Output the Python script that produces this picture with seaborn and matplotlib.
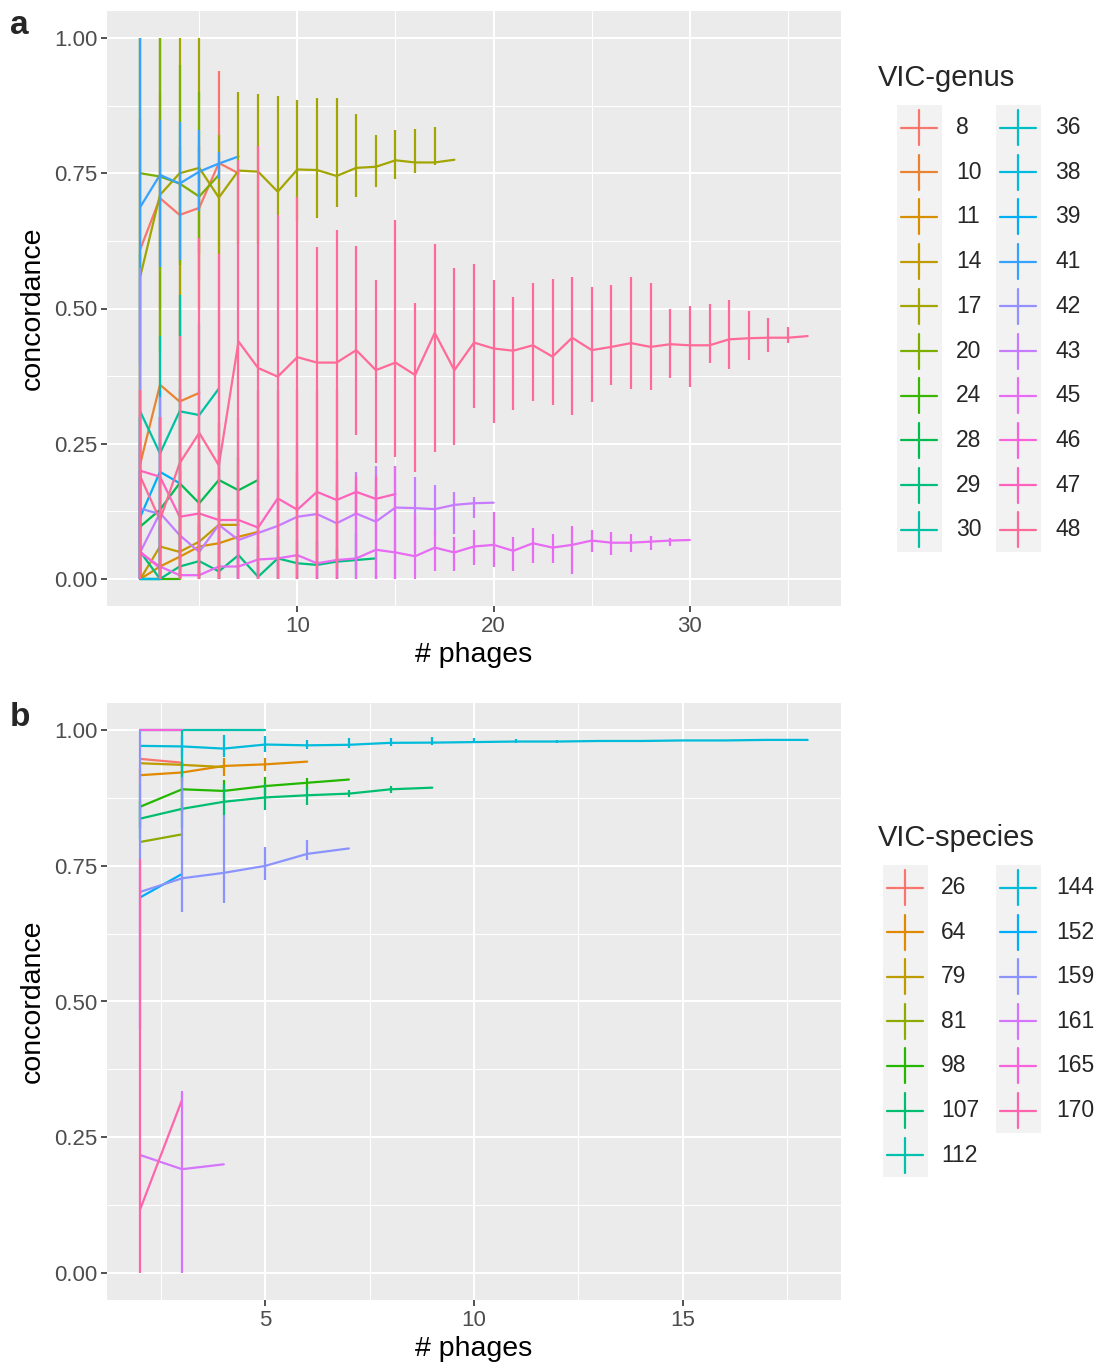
import numpy as np
import pandas as pd
import seaborn as sns
import matplotlib
matplotlib.use("Agg")
import matplotlib.pyplot as plt
from matplotlib.patches import Rectangle

# ---- data: mean concordance and bar ends, x runs 2, 3, 4, ... ----
genus_ids = [8, 10, 11, 14, 17, 20, 24, 28, 29, 30, 36, 38, 39, 41, 42, 43, 45, 46, 47, 48]

genus_mean = {
    8: [0.61, 0.704, 0.673, 0.686, 0.769, 0.75],
    10: [0.214, 0.359, 0.328, 0.344],
    11: [0.0, 0.023, 0.041, 0.06, 0.066, 0.078, 0.087],
    14: [0.0, 0.06, 0.05, 0.069, 0.10, 0.10],
    17: [0.56, 0.71, 0.75, 0.76, 0.705, 0.755, 0.753, 0.716, 0.757, 0.756, 0.745, 0.76, 0.762, 0.774, 0.77, 0.77, 0.775],
    20: [0.75, 0.744, 0.731, 0.707, 0.747],
    24: [0.0, 0.0, 0.0],
    28: [0.097, 0.128, 0.177, 0.14, 0.183, 0.164, 0.183],
    29: [0.05, 0.0, 0.023, 0.033, 0.014, 0.044, 0.004, 0.038, 0.029, 0.026, 0.032, 0.035, 0.038],
    30: [0.309, 0.232, 0.31, 0.303, 0.352],
    36: [0.0, 0.0],
    38: [0.0, 0.0],
    39: [0.115, 0.198, 0.177],
    41: [0.688, 0.747, 0.731, 0.753, 0.768, 0.781],
    42: [0.13, 0.12],
    43: [0.05, 0.122, 0.081, 0.05, 0.1, 0.072, 0.085, 0.098, 0.115, 0.12, 0.103, 0.121, 0.106, 0.132, 0.131, 0.129, 0.137, 0.14, 0.141],
    45: [0.048, 0.023, 0.007, 0.007, 0.023, 0.023, 0.036, 0.038, 0.044, 0.029, 0.035, 0.038, 0.054, 0.049, 0.042,
         0.058, 0.049, 0.06, 0.063, 0.052, 0.066, 0.058, 0.063, 0.071, 0.067, 0.067, 0.069, 0.071, 0.072],
    46: [0.05, 0.02],
    47: [0.2, 0.189, 0.115, 0.121, 0.109, 0.109, 0.095, 0.149, 0.128, 0.161, 0.146, 0.161, 0.148, 0.157],
    48: [0.189, 0.109, 0.214, 0.27, 0.21, 0.439, 0.39, 0.374, 0.41, 0.40, 0.40, 0.423, 0.386, 0.40, 0.377, 0.455, 0.386,
         0.437, 0.426, 0.422, 0.432, 0.411, 0.446, 0.423, 0.429, 0.436, 0.429, 0.434, 0.432, 0.432, 0.443, 0.445, 0.446, 0.446, 0.449],
}
genus_lo = {
    8: [0.30, 0.50, 0.45, 0.55, 0.60, 0.75],
    10: [0.0, 0.337, 0.0, 0.344],
    11: [0.0, 0.0, 0.0, 0.0, 0.0, 0.0, 0.087],
    14: [0.0, 0.0, 0.0, 0.0, 0.0, 0.10],
    17: [0.1, 0.42, 0.45, 0.5, 0.60, 0.62, 0.62, 0.673, 0.66, 0.667, 0.688, 0.707, 0.724, 0.739, 0.751, 0.765, 0.775],
    20: [0.5, 0.42, 0.58, 0.6, 0.747],
    24: [0.0, 0.0, 0.0],
    28: [0.0, 0.0, 0.05, 0.05, 0.128, 0.10, 0.183],
    29: [0.0, 0.0, 0.0, 0.0, 0.0, 0.0, 0.0, 0.0, 0.0, 0.0, 0.0, 0.0, 0.038],
    30: [0.0, 0.0, 0.1, 0.17, 0.352],
    36: [0.0, 0.0],
    38: [0.0, 0.0],
    39: [0.0, 0.05, 0.177],
    41: [0.4, 0.577, 0.59, 0.68, 0.74, 0.781],
    42: [0.0, 0.0],
    43: [0.0, 0.0, 0.0, 0.0, 0.0, 0.0, 0.0, 0.0, 0.0, 0.0, 0.0, 0.02, 0.0, 0.0, 0.05, 0.08, 0.084, 0.112, 0.141],
    45: [0.0, 0.0, 0.0, 0.0, 0.0, 0.0, 0.0, 0.0, 0.0, 0.0, 0.0, 0.0, 0.0, 0.0,
         0.0, 0.014, 0.014, 0.026, 0.023, 0.014, 0.03, 0.03, 0.009, 0.05, 0.044, 0.049, 0.054, 0.061, 0.072],
    46: [0.0, 0.02],
    47: [0.0, 0.0, 0.0, 0.0, 0.0, 0.0, 0.0, 0.0, 0.0, 0.0, 0.0, 0.12, 0.12, 0.157],
    48: [0.0, 0.0, 0.0, 0.0, 0.0, 0.1, 0.0, 0.0, 0.0, 0.02, 0.02, 0.266, 0.214, 0.226, 0.198, 0.235, 0.247,
         0.316, 0.289, 0.312, 0.329, 0.322, 0.303, 0.328, 0.359, 0.351, 0.349, 0.371, 0.354, 0.399, 0.389, 0.405, 0.42, 0.436, 0.449],
}
genus_hi = {
    8: [0.85, 0.90, 0.80, 0.80, 0.94, 0.75],
    10: [0.5, 0.42, 0.497, 0.344],
    11: [0.0, 0.1, 0.2, 0.15, 0.15, 0.1, 0.087],
    14: [0.0, 0.15, 0.12, 0.17, 0.128, 0.10],
    17: [1.0, 1.0, 1.0, 1.0, 0.82, 0.90, 0.897, 0.893, 0.885, 0.89, 0.89, 0.86, 0.82, 0.83, 0.831, 0.836, 0.775],
    20: [1.0, 1.0, 0.95, 0.9, 0.747],
    24: [0.1, 0.1, 0.0],
    28: [0.3, 0.3, 0.35, 0.25, 0.288, 0.226, 0.183],
    29: [0.2, 0.1, 0.1, 0.1, 0.08, 0.1, 0.06, 0.08, 0.07, 0.07, 0.06, 0.085, 0.038],
    30: [0.6, 0.45, 0.525, 0.473, 0.352],
    36: [0.3, 0.0],
    38: [0.2, 0.0],
    39: [0.3, 0.35, 0.177],
    41: [1.0, 0.848, 0.845, 0.83, 0.79, 0.781],
    42: [0.575, 0.337],
    43: [0.2, 0.3, 0.2, 0.16, 0.25, 0.18, 0.2, 0.22, 0.25, 0.25, 0.22, 0.198, 0.208, 0.208, 0.189, 0.174, 0.161, 0.151, 0.141],
    45: [0.2, 0.1, 0.08, 0.1, 0.15, 0.12, 0.15, 0.15, 0.2, 0.15, 0.18, 0.17, 0.17, 0.208,
         0.12, 0.09, 0.078, 0.09, 0.123, 0.078, 0.095, 0.083, 0.097, 0.09, 0.086, 0.083, 0.079, 0.076, 0.072],
    46: [0.25, 0.02],
    47: [0.35, 0.3, 0.3, 0.35, 0.6, 0.3, 0.35, 0.35, 0.35, 0.35, 0.35, 0.19, 0.19, 0.157],
    48: [0.35, 0.3, 0.45, 0.63, 0.6, 0.775, 0.80, 0.673, 0.707, 0.614, 0.645, 0.615, 0.553, 0.664, 0.51, 0.62, 0.575,
         0.582, 0.553, 0.521, 0.548, 0.555, 0.558, 0.54, 0.543, 0.558, 0.548, 0.499, 0.505, 0.508, 0.516, 0.495, 0.483, 0.465, 0.449],
}

species_ids = [26, 64, 79, 81, 98, 107, 112, 144, 152, 159, 161, 165, 170]

species_mean = {
    26: [0.947, 0.94],
    64: [0.917, 0.922, 0.934, 0.937, 0.942],
    79: [0.939, 0.936, 0.932],
    81: [0.794, 0.808],
    98: [0.859, 0.891, 0.888, 0.897, 0.903, 0.909],
    107: [0.837, 0.855, 0.868, 0.876, 0.880, 0.883, 0.891, 0.894],
    112: [1.0, 1.0, 1.0, 1.0],
    144: [0.971, 0.97, 0.966, 0.9735, 0.972, 0.973, 0.9766, 0.977, 0.978, 0.979, 0.979, 0.98, 0.98, 0.981, 0.981, 0.982, 0.982],
    152: [0.692, 0.735],
    159: [0.702, 0.727, 0.737, 0.75, 0.772, 0.782],
    161: [0.217, 0.191, 0.2],
    165: [1.0, 1.0],
    170: [0.118, 0.319],
}
species_lo = {
    26: [0.947, 0.94],
    64: [0.9, 0.905, 0.915, 0.925, 0.942],
    79: [0.939, 0.93, 0.932],
    81: [0.794, 0.808],
    98: [0.82, 0.85, 0.871, 0.88, 0.89, 0.909],
    107: [0.8, 0.82, 0.84, 0.853, 0.862, 0.876, 0.885, 0.894],
    112: [1.0, 0.912, 1.0, 1.0],
    144: [0.971, 0.95, 0.951, 0.96, 0.966, 0.967, 0.97, 0.973, 0.976, 0.976, 0.977, 0.978, 0.979, 0.98, 0.98, 0.981, 0.982],
    152: [0.692, 0.735],
    159: [0.45, 0.664, 0.682, 0.724, 0.761, 0.782],
    161: [0.217, 0.0, 0.2],
    165: [1.0, 1.0],
    170: [0.0, 0.319],
}
species_hi = {
    26: [0.947, 0.94],
    64: [0.93, 0.94, 0.949, 0.949, 0.942],
    79: [0.939, 0.942, 0.932],
    81: [0.794, 0.808],
    98: [0.9, 0.942, 0.908, 0.913, 0.911, 0.909],
    107: [0.87, 0.89, 0.9, 0.9, 0.895, 0.89, 0.897, 0.894],
    112: [1.0, 1.0, 1.0, 1.0],
    144: [0.971, 0.99, 0.991, 0.99, 0.981, 0.985, 0.986, 0.988, 0.985, 0.983, 0.982, 0.982, 0.982, 0.982, 0.982, 0.982, 0.982],
    152: [0.692, 0.735],
    159: [1.0, 0.914, 0.844, 0.785, 0.797, 0.782],
    161: [0.217, 0.336, 0.2],
    165: [1.0, 1.0],
    170: [0.763, 0.319],
}


def hcl(h, c=100, l=65):
    # ggplot2 hue_pal colours (polar LUV -> sRGB)
    h = np.deg2rad(h)
    U, V = c * np.cos(h), c * np.sin(h)
    Y = 100 * ((l + 16) / 116) ** 3
    u = U / (13 * l) + 0.1978398
    v = V / (13 * l) + 0.4683363
    X = 9 * Y * u / (4 * v)
    Z = -X / 3 - 5 * Y + 3 * Y / v
    rgb = [(3.240479 * X - 1.537150 * Y - 0.498535 * Z) / 100,
           (-0.969256 * X + 1.875992 * Y + 0.041556 * Z) / 100,
           (0.055648 * X - 0.204043 * Y + 1.057311 * Z) / 100]
    out = []
    for t in rgb:
        t = 1.055 * t ** (1 / 2.4) - 0.055 if t > 0.00304 else 12.92 * t
        out.append(min(max(t, 0), 1))
    return tuple(out)


def hue_pal(n):
    return [hcl(h) for h in np.linspace(15, 375, n + 1)[:n]]


sns.set_theme(style="darkgrid")
plt.rcParams["font.family"] = ["Liberation Sans", "DejaVu Sans"]

fig = plt.figure(figsize=(10.98, 13.69), dpi=100)
W, H = 1098, 1369
ax_a = fig.add_axes([107 / W, 1 - 606 / H, 734 / W, 595 / H])
ax_b = fig.add_axes([107 / W, 1 - 1300 / H, 734 / W, 597 / H])


def draw_panel(ax, ids, means, los, his, pal):
    rows = []
    for g in ids:
        for i in range(len(means[g])):
            rows.append((str(g), 2 + i, means[g][i], los[g][i], his[g][i]))
    df = pd.DataFrame(rows, columns=["grp", "x", "y", "lo", "hi"])
    sns.lineplot(data=df, x="x", y="y", hue="grp", hue_order=[str(g) for g in ids],
                 palette=pal, estimator=None, lw=1.6, legend=False, ax=ax)
    for g, c in zip(ids, pal):
        sub = df[df.grp == str(g)]
        ax.vlines(sub.x, sub.lo, sub.hi, colors=[c], lw=1.6)


def style_axes(ax, xlim, xmajor, xminor):
    ax.set_facecolor("#EBEBEB")
    ax.set_xlim(*xlim)
    ax.set_ylim(-0.05, 1.05)
    ax.set_xticks(xmajor)
    ax.set_xticks(xminor, minor=True)
    ax.set_yticks([0, 0.25, 0.5, 0.75, 1.0])
    ax.set_yticklabels(["0.00", "0.25", "0.50", "0.75", "1.00"])
    ax.set_yticks([0.125, 0.375, 0.625, 0.875], minor=True)
    ax.grid(which="major", color="white", lw=1.5)
    ax.grid(which="minor", color="white", lw=0.75)
    ax.set_axisbelow(True)
    for s in ax.spines.values():
        s.set_visible(False)
    ax.tick_params(which="major", length=4, width=1.2, color="#333333",
                   labelsize=16, labelcolor="#4D4D4D", pad=3, bottom=True, left=True)
    ax.tick_params(which="minor", length=0)
    ax.set_xlabel("# phages", fontsize=20.5, color="black", labelpad=4)
    ax.set_ylabel("concordance", fontsize=20.5, color="black", labelpad=6)


pal_a = hue_pal(len(genus_ids))
pal_b = hue_pal(len(species_ids))
draw_panel(ax_a, genus_ids, genus_mean, genus_lo, genus_hi, pal_a)
draw_panel(ax_b, species_ids, species_mean, species_lo, species_hi, pal_b)
style_axes(ax_a, (0.3, 37.7), [10, 20, 30], [5, 15, 25, 35])
style_axes(ax_b, (1.2, 18.8), [5, 10, 15], [2.5, 7.5, 12.5, 17.5])

# legends drawn by hand in pixel space (ggplot style keys)
leg = fig.add_axes([0, 0, 1, 1])
leg.set_xlim(0, W)
leg.set_ylim(H, 0)
leg.axis("off")


def draw_legend(title, ty, ids, pal, y0, step, per_col, col_x, txt_off):
    leg.text(878, ty, title, fontsize=21, va="center", ha="left")
    ncol = int(np.ceil(len(ids) / per_col))
    for c in range(ncol):
        n = min(per_col, len(ids) - c * per_col)
        leg.add_patch(Rectangle((col_x[c], y0 - step / 2), 45, n * step, color="#F2F2F2", lw=0))
    for i, (g, col) in enumerate(zip(ids, pal)):
        c, r = divmod(i, per_col)
        x0 = col_x[c]
        y = y0 + r * step
        leg.plot([x0 + 4, x0 + 40], [y, y], color=col, lw=1.6)
        leg.plot([x0 + 22, x0 + 22], [y - 17.5, y + 17.5], color=col, lw=1.6)
        leg.text(x0 + txt_off[c], y, str(g), fontsize=16.5, va="center", ha="left")


draw_legend("VIC-genus", 78, genus_ids, pal_a, 127.5, 44.7, 10, [897, 996], [59, 59])
draw_legend("VIC-species", 838, species_ids, pal_b, 887.5, 44.6, 7, [883, 996], [58, 60])

fig.text(10 / W, 1 - 25 / H, "a", fontsize=24, fontweight="bold", va="center", ha="left")
fig.text(10 / W, 1 - 718 / H, "b", fontsize=24, fontweight="bold", va="center", ha="left")

fig.savefig("out.png", dpi=100)
